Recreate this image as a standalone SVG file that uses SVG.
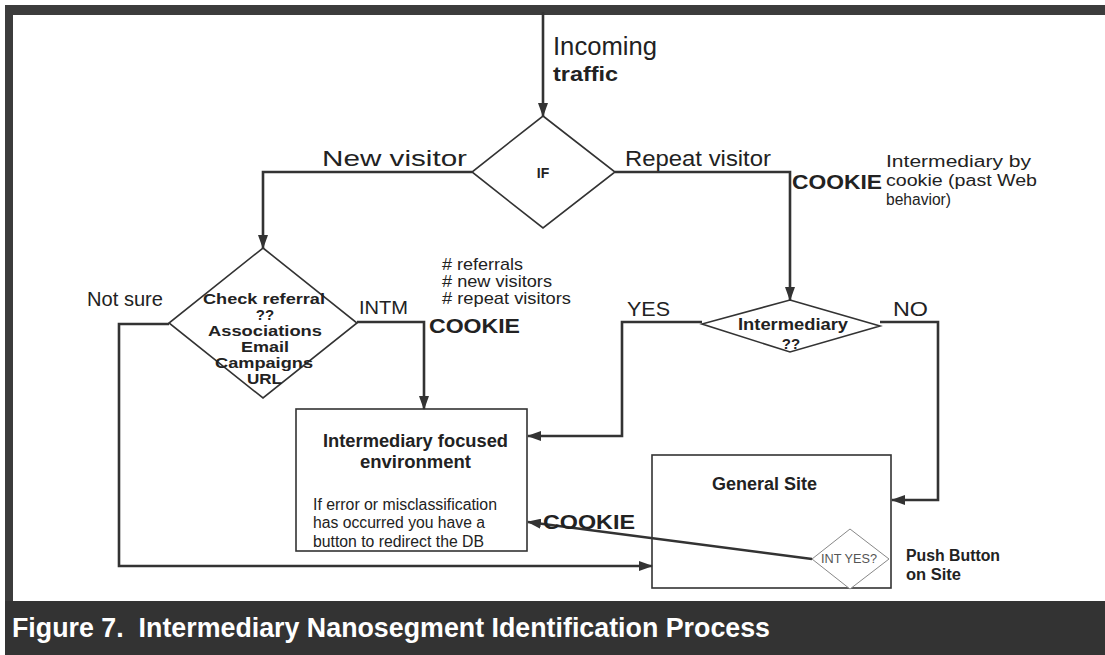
<svg xmlns="http://www.w3.org/2000/svg" width="1105" height="655" viewBox="0 0 1105 655">
  <style>
    .t { font-family: "Liberation Sans", Arial, sans-serif; fill: #222; }
    .b { font-weight: bold; }
    .shape { fill: #fff; stroke: #333; stroke-width: 1.6; }
    .conn { fill: none; stroke: #333; stroke-width: 2.6; }
  </style>
  <defs>
    <marker id="arr" viewBox="0 0 14 10" refX="13" refY="5" markerWidth="14" markerHeight="10" markerUnits="userSpaceOnUse" orient="auto">
      <path d="M0,0 L14,5 L0,10 Z" fill="#333"/>
    </marker>
  </defs>

  <!-- page frame -->
  <rect x="0" y="0" width="1105" height="655" fill="#fff"/>
  <rect x="6" y="5" width="1099" height="10" fill="#3c3c3c"/>
  <rect x="5" y="5" width="8" height="600" fill="#3c3c3c"/>
  <rect x="5" y="601" width="1100" height="54" fill="#333"/>
  <text class="t b" x="12" y="637" font-size="27" style="fill:#fff; white-space:pre" textLength="758" lengthAdjust="spacingAndGlyphs">Figure 7.  Intermediary Nanosegment Identification Process</text>

  <!-- IF decision -->
  <g id="node-if">
    <polygon class="shape" points="543,116 615,172 543,228 472,172"/>
    <text class="t b" x="543" y="178" font-size="14" text-anchor="middle">IF</text>
  </g>

  <!-- referral check decision -->
  <g id="node-check-referral">
    <polygon class="shape" points="263,248 357,323 263,398 169,323"/>
    <text class="t b" x="203" y="304" font-size="15" textLength="122" lengthAdjust="spacingAndGlyphs">Check referral</text>
    <text class="t b" x="265" y="320" font-size="15" text-anchor="middle">??</text>
    <text class="t b" x="208" y="336" font-size="15" textLength="114" lengthAdjust="spacingAndGlyphs">Associations</text>
    <text class="t b" x="241" y="352" font-size="15" textLength="48" lengthAdjust="spacingAndGlyphs">Email</text>
    <text class="t b" x="215" y="368" font-size="15" textLength="98" lengthAdjust="spacingAndGlyphs">Campaigns</text>
    <text class="t b" x="247" y="384" font-size="15" textLength="35" lengthAdjust="spacingAndGlyphs">URL</text>
  </g>

  <!-- intermediary decision -->
  <g id="node-intermediary">
    <polygon class="shape" points="790,300 880,326 790,352 702,324"/>
    <text class="t b" x="738" y="330" font-size="16" textLength="110" lengthAdjust="spacingAndGlyphs">Intermediary</text>
    <text class="t b" x="791" y="349" font-size="15" text-anchor="middle">??</text>
  </g>

  <!-- intermediary focused environment -->
  <g id="node-intermediary-env">
    <rect class="shape" x="296" y="409" width="231" height="142"/>
    <text class="t b" x="323" y="447" font-size="17.5" textLength="185" lengthAdjust="spacingAndGlyphs">Intermediary focused</text>
    <text class="t b" x="360" y="468" font-size="17.5" textLength="111" lengthAdjust="spacingAndGlyphs">environment</text>
    <text class="t" x="313" y="510" font-size="16" textLength="184" lengthAdjust="spacingAndGlyphs">If error or misclassification</text>
    <text class="t" x="313" y="528" font-size="16" textLength="172" lengthAdjust="spacingAndGlyphs">has occurred you have a</text>
    <text class="t" x="313" y="547" font-size="16" textLength="171" lengthAdjust="spacingAndGlyphs">button to redirect the DB</text>
  </g>

  <!-- general site -->
  <g id="node-general-site">
    <rect class="shape" x="652" y="455" width="239" height="133"/>
    <text class="t b" x="712" y="490" font-size="17.5" textLength="105" lengthAdjust="spacingAndGlyphs">General Site</text>
  </g>

  <!-- push button decision inside general site -->
  <g id="node-int-yes">
    <polygon points="850,529 889,559 850,589 812,559" fill="#fff" stroke="#888" stroke-width="1"/>
    <text class="t" x="821" y="563" font-size="12" textLength="56" lengthAdjust="spacingAndGlyphs" style="fill:#555">INT YES?</text>
  </g>

  <!-- connectors -->
  <g id="connectors">
    <line class="conn" x1="543" y1="12" x2="543" y2="116" marker-end="url(#arr)" stroke-width="3"/>
    <polyline class="conn" points="472,172 263,172 263,248" marker-end="url(#arr)"/>
    <polyline class="conn" points="615,172 790,172 790,300" marker-end="url(#arr)"/>
    <polyline class="conn" points="357,322 424,322 424,409" marker-end="url(#arr)"/>
    <polyline class="conn" points="169,324 119,324 119,566 652,566" marker-end="url(#arr)"/>
    <polyline class="conn" points="702,322 622,322 622,436 528,436" marker-end="url(#arr)"/>
    <polyline class="conn" points="880,322 938,322 938,500 892,500" marker-end="url(#arr)"/>
    <line class="conn" x1="812" y1="559" x2="528" y2="522" marker-end="url(#arr)"/>
  </g>

  <!-- connector labels -->
  <g id="labels">
    <text class="t" x="553" y="55" font-size="26" textLength="104" lengthAdjust="spacingAndGlyphs">Incoming</text>
    <text class="t b" x="553" y="81" font-size="20" textLength="65" lengthAdjust="spacingAndGlyphs">traffic</text>
    <text class="t" x="322" y="166" font-size="22" textLength="145" lengthAdjust="spacingAndGlyphs">New visitor</text>
    <text class="t" x="625" y="166" font-size="22" textLength="146" lengthAdjust="spacingAndGlyphs">Repeat visitor</text>
    <text class="t b" x="792" y="189" font-size="21" textLength="90" lengthAdjust="spacingAndGlyphs">COOKIE</text>
    <text class="t" x="886" y="167" font-size="16" textLength="145" lengthAdjust="spacingAndGlyphs">Intermediary by</text>
    <text class="t" x="886" y="186" font-size="16" textLength="151" lengthAdjust="spacingAndGlyphs">cookie (past Web</text>
    <text class="t" x="886" y="205" font-size="16" textLength="65" lengthAdjust="spacingAndGlyphs">behavior)</text>
    <text class="t" x="442" y="270" font-size="17" textLength="81" lengthAdjust="spacingAndGlyphs"># referrals</text>
    <text class="t" x="442" y="287" font-size="17" textLength="110" lengthAdjust="spacingAndGlyphs"># new visitors</text>
    <text class="t" x="442" y="304" font-size="17" textLength="129" lengthAdjust="spacingAndGlyphs"># repeat visitors</text>
    <text class="t" x="87" y="306" font-size="21" textLength="76" lengthAdjust="spacingAndGlyphs">Not sure</text>
    <text class="t" x="359" y="314" font-size="19" textLength="49" lengthAdjust="spacingAndGlyphs">INTM</text>
    <text class="t b" x="429" y="333" font-size="21" textLength="91" lengthAdjust="spacingAndGlyphs">COOKIE</text>
    <text class="t" x="627" y="316" font-size="21" textLength="43" lengthAdjust="spacingAndGlyphs">YES</text>
    <text class="t" x="893" y="316" font-size="21" textLength="35" lengthAdjust="spacingAndGlyphs">NO</text>
    <text class="t b" x="543" y="529" font-size="21" textLength="92" lengthAdjust="spacingAndGlyphs">COOKIE</text>
    <text class="t b" x="906" y="561" font-size="16" textLength="94" lengthAdjust="spacingAndGlyphs">Push Button</text>
    <text class="t b" x="906" y="580" font-size="16" textLength="55" lengthAdjust="spacingAndGlyphs">on Site</text>
  </g>
</svg>
